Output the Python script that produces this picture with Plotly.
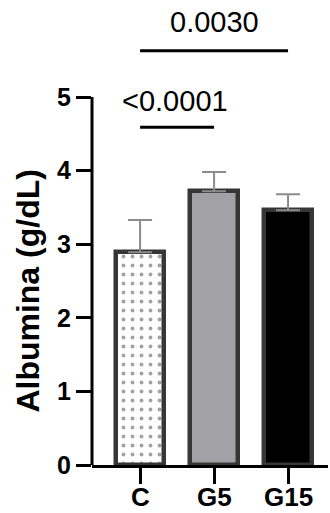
import plotly.graph_objects as go

categories = ["C", "G5", "G15"]
means = [2.89, 3.72, 3.46]
sd_upper = [0.44, 0.26, 0.22]
fills = ["white", "#a2a2a6", "black"]
patterns = [".", "", ""]

comp_pairs = [(0, 1), (0, 2)]
comp_labels = ["<0.0001", "0.0030"]
comp_line_y = [4.59, 5.63]
comp_text_y = [4.95, 6.02]
comp_text_x = [0.47, 1.0]

y_ticks = [0, 1, 2, 3, 4, 5]
y_title = "Albumina (g/dL)"

FONT = "Liberation Sans, Arial, sans-serif"

fig = go.Figure()
fig.add_trace(go.Bar(
    x=list(range(len(categories))),
    y=means,
    width=0.65,
    marker=dict(
        color=fills,
        line=dict(color="#363636", width=4.5),
        pattern=dict(shape=patterns, fgcolor="#222222", bgcolor="white", size=9, solidity=0.14),
    ),
    error_y=dict(type="data", symmetric=False, array=sd_upper, arrayminus=[0] * 3,
                 color="#8c8c8c", thickness=2, width=12),
    showlegend=False,
))

shapes = []
annotations = []
for (a, b), lab, ly, ty, tx in zip(comp_pairs, comp_labels, comp_line_y, comp_text_y, comp_text_x):
    shapes.append(dict(type="line", xref="x", yref="y", x0=a, x1=b, y0=ly, y1=ly,
                       line=dict(color="black", width=3)))
    annotations.append(dict(x=tx, y=ty, xref="x", yref="y", text=lab, showarrow=False,
                            font=dict(family=FONT, size=29, color="black"),
                            xanchor="center", yanchor="middle"))

# y axis line only from 0 to 5
shapes.append(dict(type="line", xref="paper", yref="y", x0=0, x1=0, y0=0, y1=5,
                   line=dict(color="black", width=3)))

# x category labels
for i, c in enumerate(categories):
    annotations.append(dict(x=i, y=-32 / 465, xref="x", yref="paper", text="<b>" + c + "</b>",
                            showarrow=False, xanchor="center", yanchor="middle",
                            font=dict(family=FONT, size=26, color="black")))

annotations.append(dict(x=-0.271, y=2.37, xref="paper", yref="y", text="<b>" + y_title + "</b>",
                        textangle=-90, showarrow=False, xanchor="center", yanchor="middle",
                        font=dict(family=FONT, size=32, color="black")))

fig.update_layout(
    width=330, height=513,
    margin=dict(l=92, r=2, t=0, b=48),
    plot_bgcolor="white", paper_bgcolor="white",
    shapes=shapes, annotations=annotations,
    xaxis=dict(range=[-0.65, 2.54], tickvals=list(range(len(categories))),
               showticklabels=False,
               showline=True, linecolor="black", linewidth=3,
               ticks="outside", ticklen=16, tickwidth=3, tickcolor="black",
               showgrid=False, zeroline=False, automargin=False),
    yaxis=dict(range=[0, 465 / 73.6], tickvals=y_ticks,
               ticktext=["<b>%d</b>" % v for v in y_ticks],
               showline=False, ticks="outside", ticklen=15, tickwidth=3, tickcolor="black",
               tickfont=dict(family=FONT, size=25, color="black"),
               showgrid=False, zeroline=False, automargin=False),
    bargap=0,
)

fig.write_html("out.html", config={"displayModeBar": False},
               post_script="document.body.style.margin='0';document.body.style.overflow='hidden';")
